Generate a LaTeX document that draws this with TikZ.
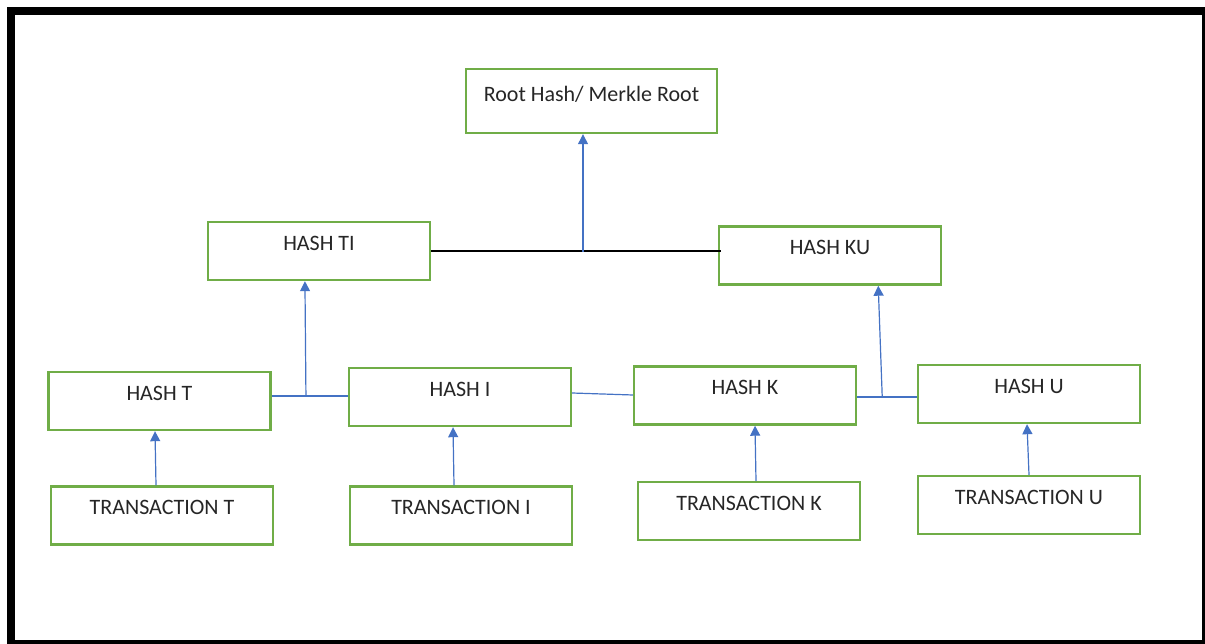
\documentclass[tikz,border=0pt]{standalone}
\usepackage{fontspec}
\setmainfont{Carlito}
\usetikzlibrary{arrows.meta,calc}
\definecolor{boxgreen}{RGB}{112,173,71}
\definecolor{linkblue}{RGB}{68,114,196}
\definecolor{txt}{RGB}{38,38,38}
\begin{document}
\begin{tikzpicture}[x=1pt,y=-1pt,
  hbox/.style={draw=boxgreen,line width=2.4pt,minimum width=222pt,minimum height=58pt,
    inner sep=0pt,font=\fontsize{22}{26}\selectfont,text=txt},
  up/.style={draw=linkblue,line width=1.2pt,-{Triangle[width=10pt,length=10pt]}},
  link/.style={draw=linkblue,line width=1.2pt}]
\useasboundingbox (0,0) rectangle (1205,644);
% outer frame
\draw[line width=8pt] (11,11) rectangle (1205.7,644);

% root
\node[hbox,minimum width=251pt,minimum height=64pt] (root) at (591.5,101) {\raisebox{14pt}{Root Hash/ Merkle Root}};
% intermediate hashes
\node[hbox] (hti) at (319,251) {\raisebox{16pt}{HASH TI}};
\node[hbox] (hku) at (830,255.5) {\raisebox{16pt}{HASH KU}};
% leaf hashes
\node[hbox] (ht) at (159.5,401) {\raisebox{16pt}{HASH T}};
\node[hbox] (hi) at (460,397) {\raisebox{16pt}{HASH I}};
\node[hbox] (hk) at (745,395.5) {\raisebox{16pt}{HASH K}};
\node[hbox] (hu) at (1029,394) {\raisebox{16pt}{HASH U}};
% transactions
\node[hbox] (tt) at (162,515.5) {\raisebox{16pt}{TRANSACTION T}};
\node[hbox] (ti) at (461,515.5) {\raisebox{16pt}{TRANSACTION I}};
\node[hbox] (tk) at (749,511) {\raisebox{16pt}{TRANSACTION K}};
\node[hbox] (tu) at (1029,505) {\raisebox{16pt}{TRANSACTION U}};

% top level joint
\coordinate (topj) at (583,252);
\draw[line width=1.2pt] (hti.east) -- ([xshift=3pt]hti.east -| hku.west);
\draw[up] (topj) -- (topj |- root.south);

% leaf level joints
\draw[link] ([yshift=5pt]ht.east) -- ([yshift=1pt]hi.west);
\draw[link] ([yshift=4pt]hi.east) -- ([yshift=0.5pt]hk.west);
\draw[link] ([yshift=-1.5pt]hk.east) -- ([yshift=-3pt]hu.west);
\coordinate (j1) at ($([yshift=5pt]ht.east)!0.45!([yshift=1pt]hi.west)$);
\coordinate (j2) at ($([yshift=-1.5pt]hk.east)!0.42!([yshift=-3pt]hu.west)$);
\draw[up] (j1) -- ([xshift=-1pt]j1 |- hti.south);
\draw[up] (j2) -- ([xshift=-4pt]j2 |- hku.south);

% transactions to leaf hashes
\draw[up] ([xshift=-6pt]tt.north) -- ([xshift=-4.5pt]ht.south);
\draw[up] ([xshift=-7pt]ti.north) -- ([xshift=-7pt]hi.south);
\draw[up] ([xshift=7pt]tk.north) -- ([xshift=10pt]hk.south);
\draw[up] (tu.north) -- ([xshift=-2pt]hu.south);
\end{tikzpicture}
\end{document}
